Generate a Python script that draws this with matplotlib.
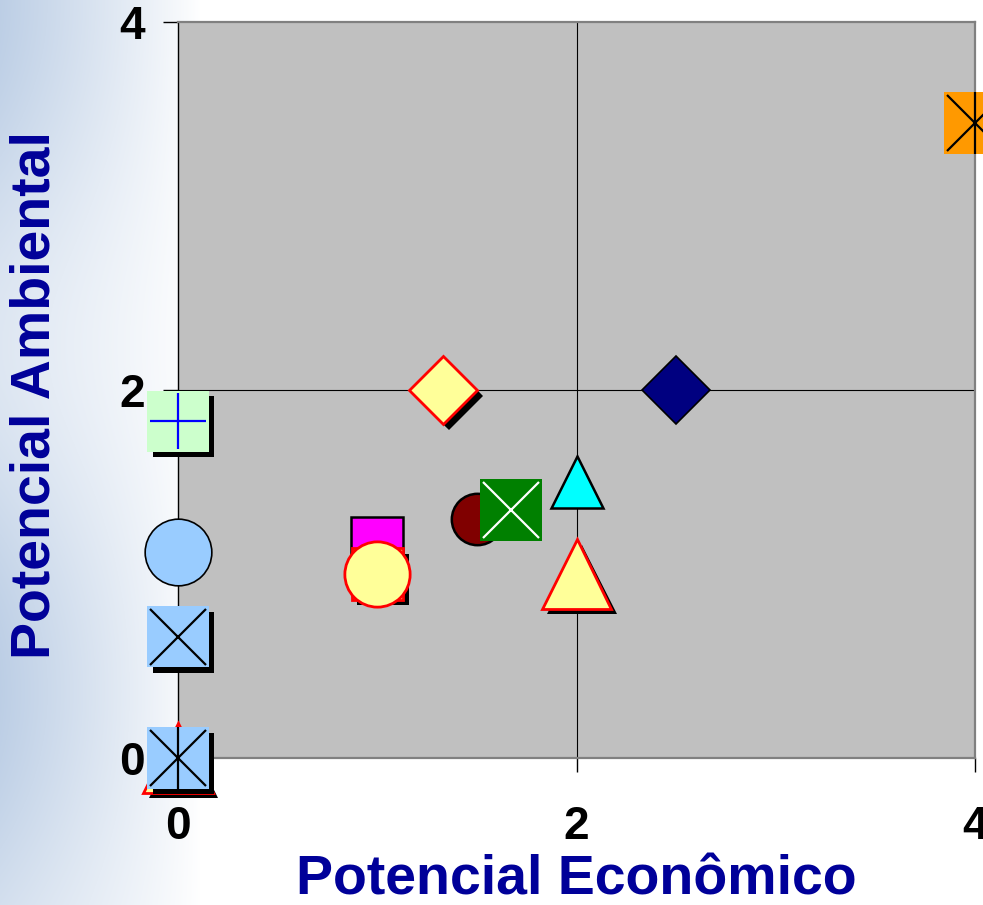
import numpy as np
import matplotlib
matplotlib.use('Agg')
import matplotlib.pyplot as plt
import matplotlib.patheffects as pe

#======================================================================
#                 data
#======================================================================
econ_pot = [0.0, 0.0, 4.0, 0.0, 0.0, 0.0, 1.0, 1.0, 1.0, 1.5, 1.67, 2.0, 2.0, 1.33, 2.5]
amb_pot  = [0.0, 0.0, 3.45, 1.83, 1.12, 0.66, 1.17, 1.0, 1.0, 1.3, 1.35, 1.5, 1.0, 2.0, 2.0]

x_ticks = [0, 2, 4]
y_ticks = [0, 2, 4]
xlabel = 'Potencial Econômico'
ylabel = 'Potencial Ambiental'

# marker, size, face, edge, edge width, shadow, overlay marks
styles = [
    ('^', 50, '#FFFF99', 'red',   2.0, True,  []),
    ('s', 44, '#99CCFF', 'none',  0.0, True,  [('x', 40, 'k'), ('|', 44, 'k')]),
    ('s', 44, '#FF9900', 'none',  0.0, False, [('x', 40, 'k'), ('|', 44, 'k')]),
    ('s', 44, '#CCFFCC', 'none',  0.0, True,  [('+', 40, 'blue')]),
    ('o', 48, '#99CCFF', 'black', 1.2, False, []),
    ('s', 44, '#99CCFF', 'none',  0.0, True,  [('x', 40, 'k')]),
    ('s', 37, '#FF00FF', 'black', 1.8, False, []),
    ('s', 37, '#FFFF99', 'red',   2.0, True,  []),
    ('o', 47, '#FFFF99', 'red',   2.0, False, []),
    ('o', 37, '#800000', 'black', 1.8, False, []),
    ('s', 44, '#008000', 'none',  0.0, False, [('x', 40, 'white')]),
    ('^', 38, '#00FFFF', 'black', 1.8, False, []),
    ('^', 50, '#FFFF99', 'red',   2.0, True,  []),
    ('D', 35, '#FFFF99', 'red',   2.0, True,  []),
    ('D', 35, '#000080', 'black', 1.2, False, []),
]

navy = '#000099'
plt.rcParams['font.family'] = ['Liberation Sans', 'DejaVu Sans']

fig = plt.figure(figsize=(9.83, 9.05), dpi=100)

#============== soft bluish background on the left side ==============
bg = fig.add_axes([0, 0, 1, 1], zorder=-5)
W, H = 983, 905
xx = np.arange(W)[None, :]
yy = np.arange(H)[:, None]
f = np.clip(1 - xx / 200.0, 0, 1) ** 0.9 * (0.75 + 0.25 * np.cos(yy / 110.0)) * np.ones((H, 1))
blue = np.array([0.74, 0.81, 0.90])
img = 1 - f[:, :, None] * (1 - blue[None, None, :])
bg.imshow(img, extent=[0, 1, 0, 1], aspect='auto')
bg.axis('off')

#============================ main axes ===============================
ax = fig.add_axes([178/983, 1 - 758/905, (975-178)/983, (758-22)/905])
ax.set_facecolor('#C0C0C0')
ax.set_xlim(0, 4)
ax.set_ylim(0, 4)
ax.set_xticks(x_ticks)
ax.set_yticks(y_ticks)
ax.set_xticklabels([str(t) for t in x_ticks], fontsize=33, fontweight='bold')
ax.set_yticklabels([str(t) for t in y_ticks], fontsize=33, fontweight='bold')
ax.tick_params(axis='y', direction='out', length=11, width=1, pad=13)
ax.tick_params(axis='x', direction='out', length=10, width=1, pad=24)

ax.axvline(2, color='black', lw=0.8, zorder=1)
ax.axhline(2, color='black', lw=0.8, zorder=1)

for side in ['top', 'right', 'bottom']:
    ax.spines[side].set_color('#808080')
    ax.spines[side].set_linewidth(1.6)
ax.spines['left'].set_color('black')
ax.spines['left'].set_linewidth(1.0)

shadow = [pe.SimplePatchShadow(offset=(4, -4), shadow_rgbFace='black', alpha=1.0), pe.Normal()]

z = 3
for xv, yv, st in zip(econ_pot, amb_pot, styles):
    mk, ms, fc, ec, mew, shd, marks = st
    ln, = ax.plot([xv], [yv], linestyle='none', marker=mk, markersize=ms,
                  markerfacecolor=fc, markeredgecolor=ec, markeredgewidth=mew,
                  clip_on=False, zorder=z)
    if shd:
        ln.set_path_effects(shadow)
    z += 0.1
    for m2, s2, c2 in marks:
        ax.plot([xv], [yv], linestyle='none', marker=m2, markersize=s2,
                markeredgecolor=c2, markeredgewidth=1.6, clip_on=False, zorder=z)
        z += 0.01
    z += 0.1

fig.text(576/983, 1 - 880/905, xlabel, ha='center', va='center',
         fontsize=40, fontweight='bold', color=navy)
fig.text(36/983, 1 - 395/905, ylabel, ha='center', va='center', rotation=90,
         fontsize=40, fontweight='bold', color=navy)

plt.savefig('out.png', dpi=100)
